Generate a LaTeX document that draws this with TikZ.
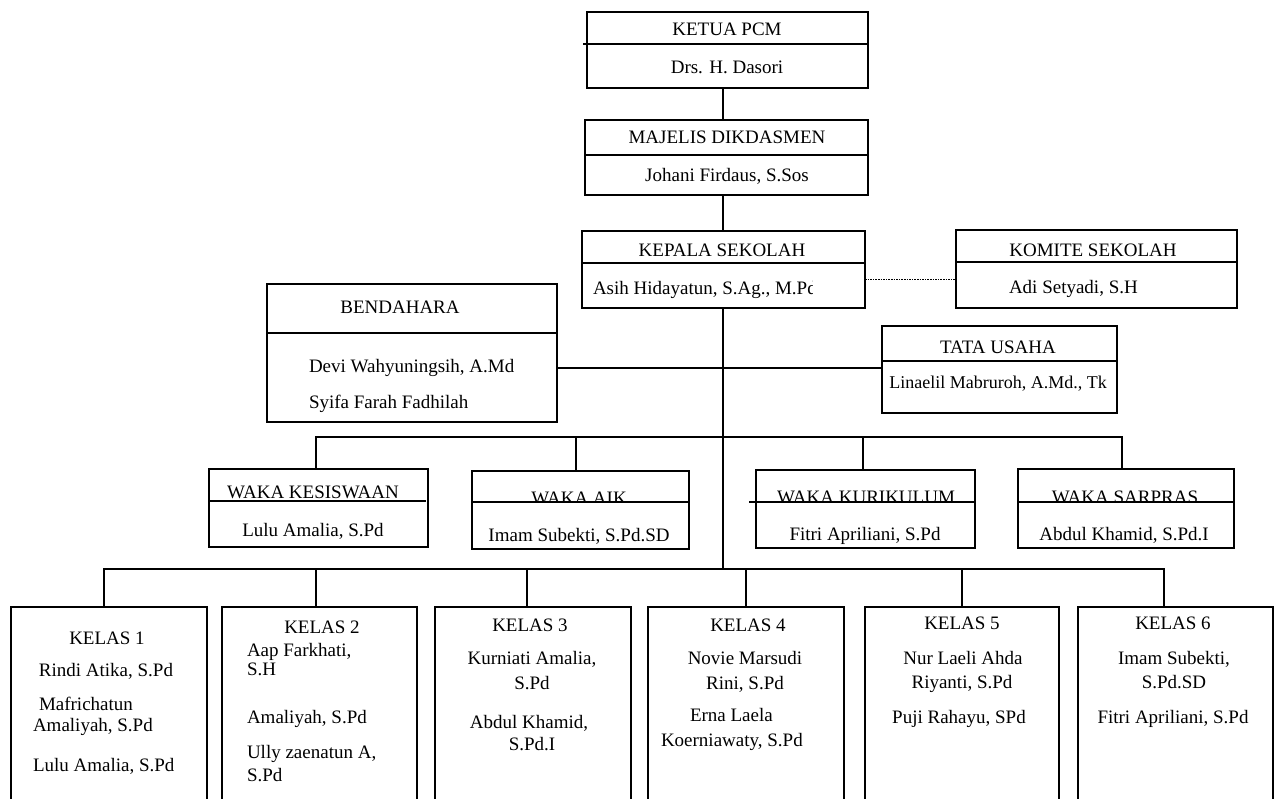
\documentclass[tikz,border=0pt]{standalone}
\usepackage{fontspec}
\setmainfont{Liberation Serif}
\newcommand{\obox}[5]{\node[bx, minimum width={#4-#2}, minimum height={#5-#3}] (#1) at ({(#2+#4)/2},{(#3+#5)/2}) {};}
\begin{document}
\begin{tikzpicture}[x=1pt,y=-1pt,
  bx/.style={draw=black, line width=1.1pt, rectangle, inner sep=0pt, outer sep=0pt},
  ln/.style={draw=black, line width=1.1pt},
  dl/.style={draw=black, line width=0.6pt, dash pattern=on 1.6pt off 1pt},
  tx/.style={inner sep=0pt, outer sep=0pt, font=\fontsize{19}{22}\selectfont, text=black},
  txs/.style={tx, font=\fontsize{18}{21}\selectfont}]
\useasboundingbox (0,0) rectangle (1280,798);
\clip (0,0) rectangle (1280,798);
% ---------- boxes ----------
\obox{ketua}{587}{12}{868}{88}
\obox{majelis}{585}{120}{868}{195}
\obox{kepala}{582}{231}{865}{308}
\obox{komite}{956}{230}{1237}{308}
\obox{bend}{267}{284}{557}{422}
\obox{tata}{882}{326}{1117}{413}
\obox{kes}{209}{469}{428}{547}
\obox{aik}{472}{471}{689}{549}
\obox{kur}{756}{470}{975}{548}
\obox{sar}{1018}{469}{1234}{548}
\obox{ka}{11}{607}{207}{830}
\obox{kb}{222}{607}{417}{830}
\obox{kc}{435}{607}{631}{830}
\obox{kd}{648}{607}{844}{830}
\obox{ke}{865}{607}{1059}{830}
\obox{kf}{1078}{607}{1273}{830}
% ---------- dividers ----------
\draw[ln] (583,44) -- (868,44);
\draw[ln] (585,155) -- (868,155);
\draw[ln] (582,263) -- (865,263);
\draw[ln] (956,262) -- (1237,262);
\draw[ln] (267,333) -- (557,333);
\draw[ln] (882,361) -- (1117,361);
\draw[ln] (209,501) -- (426,501);
% ---------- coordinates ----------
\coordinate (t) at (723,0);
\coordinate (kl) at (0,569);
\coordinate (dy) at (0,279);
\coordinate (by) at (0,368);
\coordinate (w1) at (316,437);
\coordinate (w2) at (576,437);
\coordinate (w3) at (863,437);
\coordinate (w4) at (1122,437);
\coordinate (c1) at (104,569);
\coordinate (c2) at (316,569);
\coordinate (c3) at (527,569);
\coordinate (c4) at (746,569);
\coordinate (c5) at (962,569);
\coordinate (c6) at (1164,569);
% ---------- connectors ----------
\draw[ln] (ketua.south -| t) -- (majelis.north -| t);
\draw[ln] (majelis.south -| t) -- (kepala.north -| t);
\draw[ln] (kepala.south -| t) -- (t |- kl);
\draw[dl] (kepala.east |- dy) -- (komite.west |- dy);
\draw[ln] (bend.east |- by) -- (tata.west |- by);
\draw[ln] (kes.north -| w1) -- (w1) -- (w4) -- (sar.north -| w4);
\draw[ln] (aik.north -| w2) -- (w2);
\draw[ln] (kur.north -| w3) -- (w3);
\draw[ln] (ka.north -| c1) -- (c1) -- (c6) -- (kf.north -| c6);
\draw[ln] (kb.north -| c2) -- (c2);
\draw[ln] (kc.north -| c3) -- (c3);
\draw[ln] (kd.north -| c4) -- (c4);
\draw[ln] (ke.north -| c5) -- (c5);
% ---------- texts top ----------
\node[tx, anchor=base] (t1) at (727,35) {KETUA PCM};
\node[tx, anchor=base] (t2) at (727,73) {Drs. H. Dasori};
\node[tx, anchor=base] (t3) at (727,143) {MAJELIS DIKDASMEN};
\node[tx, anchor=base] (t4) at (727,181) {Johani Firdaus, S.Sos};
\node[tx, anchor=base] (t5) at (722,256) {KEPALA SEKOLAH};
\begin{scope}
  \clip (583,264) rectangle (812,307);
  \node[tx, anchor=base west] (t6) at (593,294) {Asih Hidayatun, S.Ag., M.Pd};
\end{scope}
\node[tx, anchor=base] (t7) at (1093,256) {KOMITE SEKOLAH};
\node[tx, anchor=base west] (t8) at (1009,293) {Adi Setyadi, S.H};
\node[tx, anchor=base] (t9) at (400,313) {BENDAHARA};
\node[tx, anchor=base west] (t10) at (309,372) {Devi Wahyuningsih, A.Md};
\node[tx, anchor=base west] (t11) at (309,408) {Syifa Farah Fadhilah};
\node[tx, anchor=base] (t12) at (998,353) {TATA USAHA};
\node[txs, anchor=base] (t13) at (998,388) {Linaelil Mabruroh, A.Md., Tk};
% ---------- waka ----------
\node[tx, anchor=base] (t14) at (313,498) {WAKA KESISWAAN};
\node[tx, anchor=base] (t15) at (313,536) {Lulu Amalia, S.Pd};
\node[tx, anchor=base] (t16) at (579,504) {WAKA AIK};
\node[tx, anchor=base] (t18) at (866,503) {WAKA KURIKULUM};
\node[tx, anchor=base] (t20) at (1125,503.5) {WAKA SARPRAS};
\fill[white] (473,502.5) rectangle (688,548);
\fill[white] (757,502.5) rectangle (974,547);
\fill[white] (1019,502.5) rectangle (1233,547);
\draw[ln] (472,502) -- (689,502);
\draw[ln] (749,502) -- (975,502);
\draw[ln] (1018,502) -- (1234,502);
\node[tx, anchor=base] (t17) at (579,541) {Imam Subekti, S.Pd.SD};
\node[tx, anchor=base] (t19) at (865,540) {Fitri Apriliani, S.Pd};
\node[tx, anchor=base] (t21) at (1124,540) {Abdul Khamid, S.Pd.I};
% ---------- kelas 1 ----------
\node[tx, anchor=base] (a1) at (107,644) {KELAS 1};
\node[tx, anchor=base] (a2) at (106,676) {Rindi Atika, S.Pd};
\node[tx, anchor=base west] (a3) at (39,710) {Mafrichatun};
\node[tx, anchor=base west] (a4) at (33,731) {Amaliyah, S.Pd};
\node[tx, anchor=base west] (a5) at (33,771) {Lulu Amalia, S.Pd};
% ---------- kelas 2 ----------
\node[tx, anchor=base] (b1) at (322,633) {KELAS 2};
\node[tx, anchor=base west] (b2) at (247,656) {Aap Farkhati,};
\node[tx, anchor=base west] (b3) at (247,675) {S.H};
\node[tx, anchor=base west] (b4) at (247,723) {Amaliyah, S.Pd};
\node[tx, anchor=base west] (b5) at (247,758) {Ully zaenatun A,};
\node[tx, anchor=base west] (b6) at (247,781) {S.Pd};
% ---------- kelas 3 ----------
\node[tx, anchor=base] (c1t) at (530,631) {KELAS 3};
\node[tx, anchor=base] (c2t) at (532,664) {Kurniati Amalia,};
\node[tx, anchor=base] (c3t) at (532,689) {S.Pd};
\node[tx, anchor=base] (c4t) at (529,728) {Abdul Khamid,};
\node[tx, anchor=base] (c5t) at (532,750) {S.Pd.I};
% ---------- kelas 4 ----------
\node[tx, anchor=base] (d1) at (748,631) {KELAS 4};
\node[tx, anchor=base] (d2) at (745,664) {Novie Marsudi};
\node[tx, anchor=base] (d3) at (745,689) {Rini, S.Pd};
\node[tx, anchor=base west] (d4) at (690,721) {Erna Laela};
\node[tx, anchor=base west] (d5) at (661,746) {Koerniawaty, S.Pd};
% ---------- kelas 5 ----------
\node[tx, anchor=base] (e1) at (962,629) {KELAS 5};
\node[tx, anchor=base] (e2) at (963,664) {Nur Laeli Ahda};
\node[tx, anchor=base] (e3) at (962,688) {Riyanti, S.Pd};
\node[tx, anchor=base] (e4) at (959,723) {Puji Rahayu, SPd};
% ---------- kelas 6 ----------
\node[tx, anchor=base] (f1) at (1173,629) {KELAS 6};
\node[tx, anchor=base] (f2) at (1174,664) {Imam Subekti,};
\node[tx, anchor=base] (f3) at (1174,688) {S.Pd.SD};
\node[tx, anchor=base] (f4) at (1173,723) {Fitri Apriliani, S.Pd};
\end{tikzpicture}
\end{document}
